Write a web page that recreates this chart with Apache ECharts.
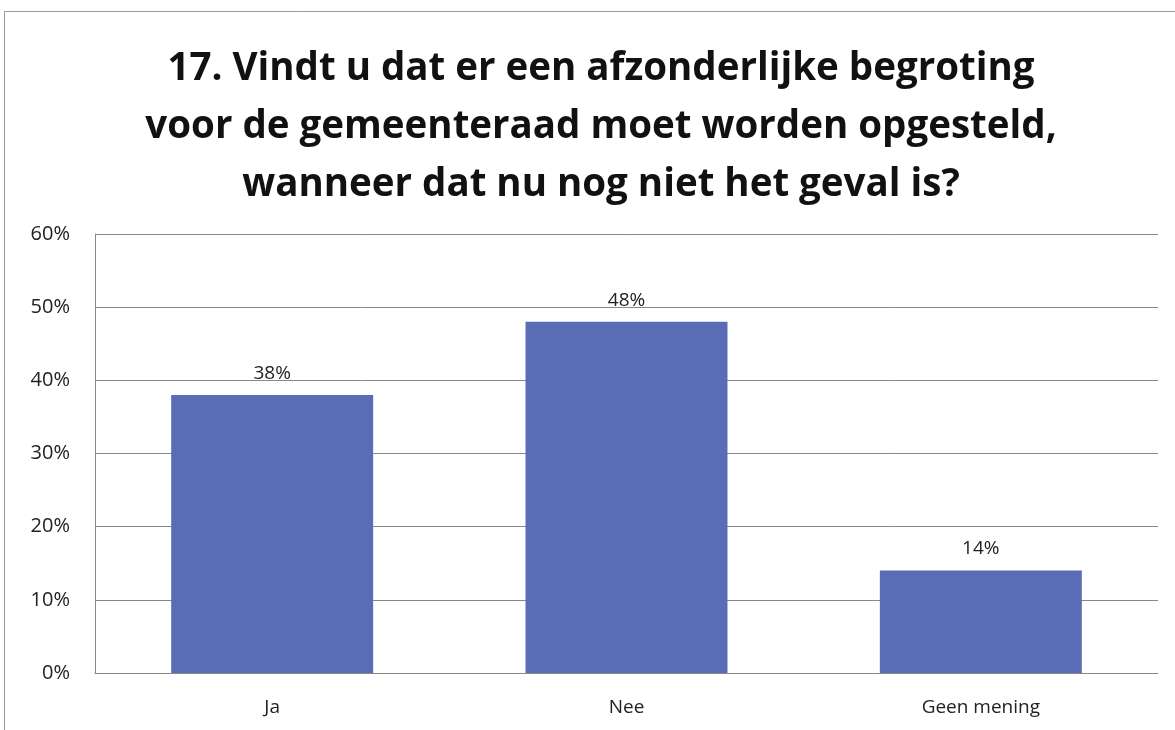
<!DOCTYPE html>
<html>
<head>
<meta charset="utf-8">
<script src="https://cdn.jsdelivr.net/npm/echarts@6/dist/echarts.min.js"></script>
<style>
  html, body { margin: 0; padding: 0; background: #fff; }
  #chart { width: 1175px; height: 730px; }
</style>
</head>
<body>
<div id="chart"></div>
<script>
// data
var categories = ['Ja', 'Nee', 'Geen mening'];
var values = [38, 48, 14];
var yTicks = [0, 10, 20, 30, 40, 50, 60];
var titleText = '17. Vindt u dat er een afzonderlijke begroting\nvoor de gemeenteraad moet worden opgesteld,\nwanneer dat nu nog niet het geval is?';

var myChart = echarts.init(document.getElementById('chart'));
var font = '"Open Sans", "DejaVu Sans", sans-serif';
var option = {
  backgroundColor: '#fff',
  animation: false,
  graphic: [{
    type: 'rect',
    shape: { x: 4.5, y: 11.5, width: 1200, height: 760 },
    style: { fill: 'none', stroke: '#999', lineWidth: 1 },
    silent: true
  }],
  title: {
    text: titleText,
    left: 596,
    textAlign: 'center',
    top: 35,
    textStyle: {
      color: '#111',
      fontFamily: font,
      fontWeight: 'bold',
      fontSize: 38.5,
      lineHeight: 58
    }
  },
  grid: {
    left: 95,
    right: 17,
    top: 234,
    bottom: 57,
    containLabel: false
  },
  xAxis: {
    type: 'category',
    data: categories,
    axisLine: { lineStyle: { color: '#888', width: 1 } },
    axisTick: { show: false },
    axisLabel: {
      color: '#222',
      fontFamily: font,
      fontSize: 19,
      margin: 25
    }
  },
  yAxis: {
    type: 'value',
    min: yTicks[0],
    max: yTicks[yTicks.length - 1],
    interval: 10,
    axisLine: { show: true, lineStyle: { color: '#888', width: 1 } },
    axisTick: { show: false },
    splitLine: { lineStyle: { color: '#888', width: 1 } },
    axisLabel: {
      color: '#222',
      fontFamily: font,
      fontSize: 20,
      margin: 25,
      formatter: function (v) { return v + '%'; }
    }
  },
  series: [{
    type: 'bar',
    data: values,
    barWidth: '57%',
    itemStyle: { color: '#5b6cb6' },
    label: {
      show: true,
      position: 'top',
      distance: 12,
      color: '#222',
      fontFamily: font,
      fontSize: 19,
      formatter: function (p) { return p.value + '%'; }
    }
  }]
};
myChart.setOption(option);
</script>
</body>
</html>
